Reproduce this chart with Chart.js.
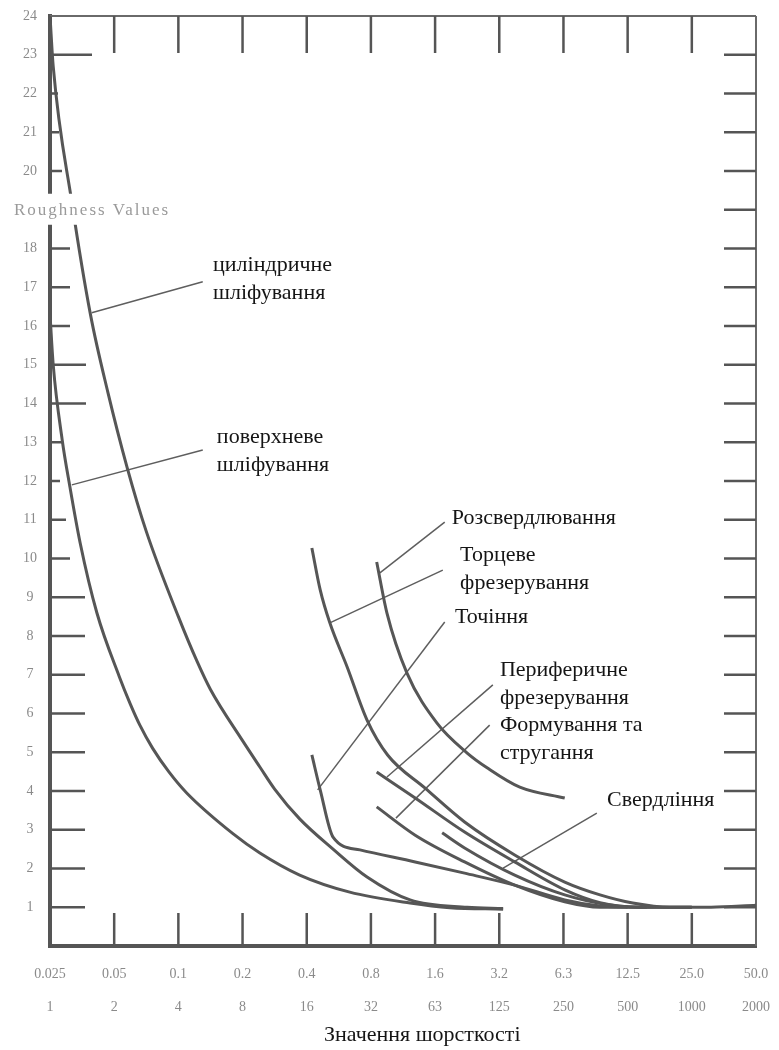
<!DOCTYPE html>
<html><head><meta charset="utf-8">
<script src="https://cdn.jsdelivr.net/npm/chart.js@4/dist/chart.umd.min.js"></script>
<style>html,body{margin:0;padding:0;background:#fff;}canvas{display:block;}</style>
</head><body>
<canvas id="c" width="779" height="1050"></canvas>
<script>
// ---- tick labels ----
const xTicksRa = ['0.025','0.05','0.1','0.2','0.4','0.8','1.6','3.2','6.3','12.5','25.0','50.0'];
const xTicksRz = ['1','2','4','8','16','32','63','125','250','500','1000','2000'];
const yAxisLabel = 'Roughness Values';
const xAxisTitle = 'Значення шорсткості';

// ---- series: [category index, value] ----
const cylindricalGrinding = [[0,24],[0.05,22.7],[0.34,19.2],[0.63,16.3],[0.9,14.3],[1.2,12.36],[1.5,10.7],[2,8.5],[2.29,7.35],[2.5,6.62],[3,5.3],[3.27,4.62],[3.5,4.05],[3.89,3.28],[4.41,2.5],[4.94,1.78],[5.61,1.19],[6.5,1.0],[7.06,0.97]];
const surfaceGrinding = [[0,16.3],[0.05,15.0],[0.19,13.06],[0.31,11.85],[0.47,10.4],[0.73,8.6],[1.08,6.95],[1.25,6.25],[1.4,5.7],[1.6,5.1],[1.85,4.5],[2.13,3.95],[2.85,2.9],[3.27,2.4],[3.89,1.83],[4.67,1.39],[5.61,1.11],[6.23,0.99],[7.06,0.95]];
const reaming = [[5.09,9.91],[5.25,8.59],[5.56,7.05],[6.03,5.75],[6.5,4.98],[6.81,4.6],[7.32,4.1],[8.02,3.82]];
const faceMilling = [[4.08,10.27],[4.21,9.19],[4.36,8.34],[4.63,7.2],[4.94,5.83],[5.26,4.93],[5.84,4.08],[6.46,3.2],[7.24,2.35],[8.02,1.65],[8.57,1.32],[9.08,1.11],[9.66,1.0],[10.3,1.0],[11,1.05]];
const turning = [[4.08,4.93],[4.21,4.03],[4.41,2.81],[4.83,2.48],[5.69,2.17],[6.46,1.88],[7.24,1.57],[8.02,1.19],[8.57,1.03],[9.0,1.0]];
const peripheralMilling = [[5.09,4.49],[5.69,3.82],[6.46,2.94],[7.24,2.17],[8.02,1.45],[8.57,1.12],[9.2,1.0],[10,1.0]];
const formingPlaning = [[5.09,3.59],[5.69,2.86],[6.46,2.17],[7.24,1.57],[8.02,1.14],[8.57,1.0],[9.3,1.0]];
const drilling = [[6.11,2.92],[6.46,2.53],[7.24,1.83],[8.02,1.32],[8.72,1.06],[9.35,1.0],[10,1.0]];

// ---- annotations (data coordinates) ----
const labels = [
  {lines:['циліндричне','шліфування'], at:[2.54,17.57], tip:[0.65,16.34], from:[2.38,17.14]},
  {lines:['поверхневе','шліфування'], at:[2.6,13.14], tip:[0.34,11.9], from:[2.38,12.8]},
  {lines:['Розсвердлювання'], at:[6.26,11.05], tip:[5.14,9.63], from:[6.15,10.94]},
  {lines:['Торцеве','фрезерування'], at:[6.39,10.09], tip:[4.36,8.34], from:[6.12,9.7]},
  {lines:['Точіння'], at:[6.31,8.49], tip:[4.17,4.03], from:[6.15,8.36]},
  {lines:['Периферичне','фрезерування'], at:[7.01,7.12], tip:[5.25,4.36], from:[6.9,6.74]},
  {lines:['Формування та','стругання'], at:[7.01,5.7], tip:[5.39,3.3], from:[6.85,5.7]},
  {lines:['Свердління'], at:[8.68,3.77], tip:[7.06,2.01], from:[8.52,3.43]}
];

// style only
const leftTickLength = {23:42,22:8,21:9,20:12,18:20,17:20,16:20,15:36,14:36,13:12,12:10,11:16,10:20};
const CURVE = '#565656';
const serif = "'Liberation Serif', 'DejaVu Serif', serif";

const toXY = arr => arr.map(p => ({x:p[0], y:p[1]}));
const curveDs = (label, arr) => ({label, data: toXY(arr), borderColor: CURVE, borderWidth: 3, pointRadius: 0, cubicInterpolationMode: 'monotone', fill: false});
const leaderDs = l => ({label: 'leader', data: toXY([l.from, l.tip]), borderColor: '#5e5e5e', borderWidth: 1.5, pointRadius: 0, tension: 0, fill: false});

const overlay = {
  id: 'overlay',
  beforeDatasetsDraw(chart) {
    const {ctx, chartArea: a, scales: {x, y}} = chart;
    const seg = (x1,y1,x2,y2) => { ctx.beginPath(); ctx.moveTo(x1,y1); ctx.lineTo(x2,y2); ctx.stroke(); };
    ctx.save();
    ctx.strokeStyle = '#6a6a6a'; ctx.lineWidth = 2;
    seg(a.left, a.top, a.right, a.top);
    seg(a.right, a.top, a.right, a.bottom);
    ctx.strokeStyle = '#555'; ctx.lineWidth = 2.5;
    for (let v = 1; v < 24; v++) {
      const py = y.getPixelForValue(v);
      const L = leftTickLength[v] ?? 35;
      seg(a.left, py, a.left + L, py);
      seg(a.right - 32, py, a.right, py);
    }
    for (let i = 1; i < 11; i++) {
      const px = x.getPixelForValue(i);
      seg(px, a.top, px, a.top + 37);
      seg(px, a.bottom, px, a.bottom - 33);
    }
    ctx.restore();
  },
  afterDatasetsDraw(chart) {
    const {ctx, chartArea: a, scales: {x, y}} = chart;
    ctx.save();
    // curve labels
    ctx.font = "22px " + serif;
    ctx.fillStyle = '#151515';
    ctx.textAlign = 'left';
    ctx.textBaseline = 'middle';
    labels.forEach(l => {
      const px = x.getPixelForValue(l.at[0]);
      const py = y.getPixelForValue(l.at[1]);
      l.lines.forEach((t, k) => ctx.fillText(t, px, py + k * 28));
    });
    // y axis label replacing the 19 tick
    const ry = y.getPixelForValue(19);
    ctx.fillStyle = '#fff';
    ctx.fillRect(8, ry - 16, 170, 31);
    ctx.fillStyle = '#9a9a9a';
    ctx.font = "17px " + serif;
    if ('letterSpacing' in ctx) ctx.letterSpacing = '2px';
    ctx.fillText(yAxisLabel, 14, ry + 1);
    if ('letterSpacing' in ctx) ctx.letterSpacing = '0px';
    // x axis title
    ctx.fillStyle = '#151515';
    ctx.font = "22px " + serif;
    ctx.textAlign = 'center';
    ctx.fillText(xAxisTitle, x.getPixelForValue(5.8), 1035);
    ctx.restore();
  }
};

new Chart(document.getElementById('c'), {
  type: 'line',
  data: {
    datasets: [
      curveDs('циліндричне шліфування', cylindricalGrinding),
      curveDs('поверхневе шліфування', surfaceGrinding),
      curveDs('Розсвердлювання', reaming),
      curveDs('Торцеве фрезерування', faceMilling),
      curveDs('Точіння', turning),
      curveDs('Периферичне фрезерування', peripheralMilling),
      curveDs('Формування та стругання', formingPlaning),
      curveDs('Свердління', drilling),
      ...labels.map(leaderDs)
    ]
  },
  options: {
    responsive: false,
    animation: false,
    devicePixelRatio: 1,
    layout: {padding: {top: 16, right: 23, left: 0, bottom: 0}},
    plugins: {legend: {display: false}, tooltip: {enabled: false}, title: {display: false}},
    scales: {
      x: {
        type: 'linear', position: 'bottom', min: 0, max: 11,
        grid: {display: false, drawTicks: false},
        border: {display: true, color: '#555', width: 4},
        ticks: {
          stepSize: 1, autoSkip: false, maxRotation: 0, minRotation: 0, padding: 12,
          color: '#8a8a8a', font: {family: serif, size: 14, lineHeight: 2.35},
          callback: v => [xTicksRa[v], xTicksRz[v]]
        },
        afterFit: s => { s.height = 104; s.paddingLeft = 0; s.paddingRight = 0; }
      },
      y: {
        type: 'linear', position: 'left', min: 0, max: 24,
        grid: {display: false, drawTicks: false},
        border: {display: true, color: '#555', width: 4},
        ticks: {
          stepSize: 1, autoSkip: false, padding: 13, crossAlign: 'center',
          color: '#8a8a8a', font: {family: serif, size: 14},
          callback: v => (v === 0 || v === 19) ? '' : String(v)
        },
        afterFit: s => { s.width = 50; s.paddingTop = 0; s.paddingBottom = 0; }
      }
    }
  },
  plugins: [overlay]
});
</script>
</body></html>
